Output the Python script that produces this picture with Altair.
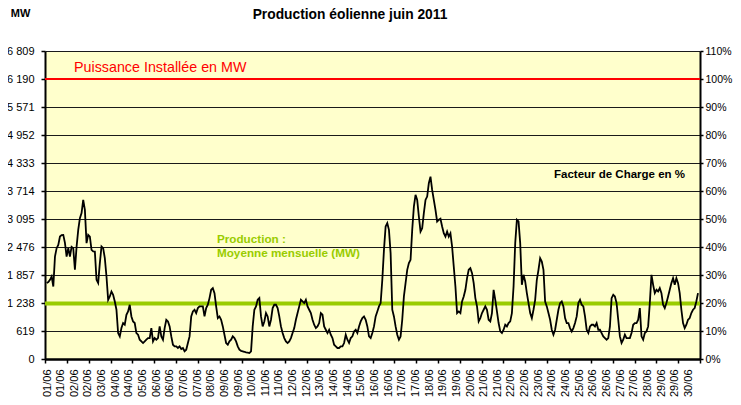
import altair as alt
import pandas as pd

title_text = "Production éolienne juin 2011"
installed_mw = 6190
monthly_mean_mw = 1225
y_ticks = [0, 619, 1238, 1857, 2476, 3095, 3714, 4333, 4952, 5571, 6190, 6809]
label_hours = list(range(0, 720, 15))
x_labels = ["01/06", "01/06", "02/06", "02/06", "03/06", "04/06", "04/06", "05/06",
            "06/06", "06/06", "07/06", "07/06", "08/06", "09/06", "09/06", "10/06",
            "11/06", "11/06", "12/06", "12/06", "13/06", "14/06", "14/06", "15/06",
            "16/06", "16/06", "17/06", "17/06", "18/06", "19/06", "19/06", "20/06",
            "21/06", "21/06", "22/06", "22/06", "23/06", "24/06", "24/06", "25/06",
            "26/06", "26/06", "27/06", "27/06", "28/06", "29/06", "29/06", "30/06"]
day_tick_hours = list(range(0, 721, 24))

# production (MW), sampled every ~1.83 h, in three stretches of the month
step_hours = 1.8265
seg_start_hours = [1.83, 213.7, 476.7]
seg1 = [1680, 1700, 1750, 1824, 1603, 2265, 2450, 2523, 2707, 2740,
        2744, 2568, 2265, 2450, 2265, 2480, 2450, 1972, 2480, 2855,
        3113, 3225, 3517, 3297, 2561, 2744, 2707, 2413, 2380, 2377,
        1751, 1678, 2119, 2487, 2450, 2230, 1824, 1309, 1383, 1493,
        1420, 1272, 1089, 574, 500, 684, 795, 760, 978, 1052,
        1199, 941, 830, 795, 574, 537, 426, 389, 353, 389,
        426, 463, 463, 684, 389, 463, 426, 463, 720, 500,
        426, 684, 868, 831, 720, 500, 316, 280, 280, 243,
        280, 220, 243, 171, 206, 353, 500, 941, 1052, 1089,
        1015, 1126, 1163, 1163, 1163, 941, 1126, 1199, 1346, 1530,
        1567, 1457, 1163, 904, 941, 868, 720, 537, 353, 316,
        389, 426, 500, 463, 389, 280]
seg2 = [206, 180, 171, 160, 147, 140, 132, 171, 720, 1089,
        1163, 1309, 1346, 941, 720, 831, 1015, 941, 720, 868,
        1126, 1199, 1199, 1126, 941, 720, 574, 463, 389, 353,
        389, 463, 574, 684, 868, 1015, 1163, 1309, 1272, 1236,
        1309, 1163, 1089, 1015, 868, 757, 684, 720, 795, 1015,
        978, 720, 647, 574, 647, 537, 463, 316, 280, 243,
        243, 280, 280, 353, 537, 426, 353, 463, 500, 610,
        647, 574, 720, 831, 904, 941, 868, 720, 500, 463,
        574, 720, 941, 1052, 1163, 1236, 1751, 2413, 2928, 3003,
        2855, 2340, 1089, 941, 720, 537, 426, 500, 868, 1383,
        1678, 1972, 2119, 2193, 2855, 3370, 3628, 3517, 3150, 2818,
        2892, 3224, 3517, 3591, 3886, 4032, 3738, 3517, 3297, 3040,
        3077, 3100, 2928, 2781, 2707, 2818, 2707, 2781, 2487, 2045,
        1603, 1015, 1052, 1015, 1272, 1383, 1530, 1787, 1972, 2009,
        1898, 1678, 1346, 1163]
seg3 = [831, 904, 1015, 1089, 1163, 1089, 868, 831, 1015, 1530,
        1309, 1052, 795, 610, 574, 647, 757, 720, 795, 831,
        1015, 1603, 2561, 3077, 3040, 2561, 1640, 1861, 1714, 1457,
        1236, 1015, 904, 1089, 1309, 1751, 1972, 2230, 2156, 1972,
        1272, 1163, 1015, 868, 647, 537, 647, 868, 1089, 1236,
        1272, 1163, 904, 795, 795, 684, 610, 684, 795, 941,
        1236, 1309, 1199, 1163, 941, 647, 574, 720, 757, 757,
        720, 795, 647, 647, 574, 500, 463, 426, 463, 720,
        1346, 1420, 1383, 1236, 868, 500, 353, 426, 537, 463,
        463, 463, 574, 757, 795, 795, 868, 1126, 500, 426,
        574, 610, 720, 1236, 1861, 1640, 1457, 1530, 1493, 1567,
        1457, 1199, 1126, 1236, 1383, 1530, 1678, 1787, 1640, 1787,
        1678, 1457, 1089, 795, 684, 757, 868, 904, 1015, 1089,
        1126, 1272, 1457]

hours, mw = [], []
for start, vals in zip(seg_start_hours, [seg1, seg2, seg3]):
    for i, v in enumerate(vals):
        hours.append(start + i * step_hours)
        mw.append(v)
df = pd.DataFrame({"heure": hours, "MW": mw})

FONT = "Liberation Sans"
xs = alt.Scale(domain=[0, 720], nice=False)
ys = alt.Scale(domain=[0, 6809], nice=False, zero=True)

label_expr_x = "[" + ",".join("'%s'" % s for s in x_labels) + "][round(datum.value / 15)]"

# visible production line (no axes of its own)
line = alt.Chart(df).mark_line(color="black", strokeWidth=1.8).encode(
    x=alt.X("heure:Q", scale=xs, axis=None),
    y=alt.Y("MW:Q", scale=ys, axis=None),
)

mean_rule = alt.Chart(pd.DataFrame({"moy": [monthly_mean_mw]})).mark_rule(
    color="#99CC00", strokeWidth=4).encode(y=alt.Y("moy:Q", scale=ys, axis=None))
inst_rule = alt.Chart(pd.DataFrame({"inst": [installed_mw]})).mark_rule(
    color="#FF0000", strokeWidth=2).encode(y=alt.Y("inst:Q", scale=ys, axis=None))

one = pd.DataFrame({"k": [0]})
red_text = alt.Chart(one).mark_text(
    text="Puissance Installée en MW", color="#FF0000", font=FONT, fontSize=14.3,
    align="left", baseline="alphabetic").encode(x=alt.value(29), y=alt.value(21))
green_text = alt.Chart(one).mark_text(
    text=["Production :", "Moyenne mensuelle (MW)"], color="#99CC00", font=FONT,
    fontSize=11.7, fontWeight="bold", lineHeight=13.5,
    align="left", baseline="alphabetic").encode(x=alt.value(172), y=alt.value(192))
title_mark = alt.Chart(one).mark_text(
    text=title_text, color="black", font=FONT, fontSize=13.8, fontWeight="bold",
    align="center", baseline="alphabetic").encode(x=alt.value(305), y=alt.value(-32))

# axis carriers (invisible marks)
axis_left = alt.Chart(df).mark_line(strokeOpacity=0).encode(
    x=alt.X("heure:Q", scale=xs, axis=alt.Axis(
        orient="bottom", values=label_hours, labelExpr=label_expr_x, labelAngle=270,
        labelAlign="right", labelBaseline="middle", labelOverlap=False, labelFlush=False,
        labelPadding=10, labelOffset=2, labelFont=FONT, labelFontSize=11, labelColor="black",
        ticks=False, domain=True, domainColor="black", domainWidth=2, grid=False, title=None)),
    y=alt.Y("MW:Q", scale=ys, axis=alt.Axis(
        orient="left", values=y_ticks,
        labelExpr="replace(format(datum.value, ','), ',', ' ')",
        labelFont=FONT, labelFontSize=11, labelColor="black", labelPadding=7,
        labelOverlap=False, labelFlush=False,
        tickSize=4, tickColor="black", tickWidth=1.5,
        domainColor="black", domainWidth=2,
        grid=True, gridColor="#1a1a1a", gridWidth=1,
        title="MW", titleAngle=0, titleX=-25, titleY=-35, titleAlign="center",
        titleBaseline="alphabetic", titleFont=FONT, titleFontSize=11,
        titleFontWeight="bold", titleColor="black")),
)

axis_right = alt.Chart(df).mark_line(strokeOpacity=0).encode(
    x=alt.X("heure:Q", scale=xs, axis=alt.Axis(
        orient="bottom", values=day_tick_hours, labels=False, ticks=True, tickSize=4,
        tickColor="black", tickWidth=1.5, domainColor="black", domainWidth=2,
        grid=False, title=None)),
    y=alt.Y("MW:Q", scale=ys, axis=alt.Axis(
        orient="right", values=y_ticks,
        labelExpr="format(datum.value / %d, '.0%%')" % installed_mw,
        labelFont=FONT, labelFontSize=10.5, labelColor="black", labelPadding=2,
        labelOverlap=False, labelFlush=False,
        tickSize=3, tickColor="black", tickWidth=1.5,
        domainColor="black", domainWidth=2, grid=False,
        title="Facteur de Charge en %", titleAngle=0, titleX=-81, titleY=126,
        titleAlign="center", titleBaseline="alphabetic", titleFont=FONT,
        titleFontSize=11.5, titleFontWeight="bold", titleColor="black")),
)

chart = alt.layer(
    axis_left, axis_right, mean_rule, inst_rule, red_text, green_text, title_mark, line
).resolve_axis(x="independent", y="independent").properties(
    width=655, height=308,
    padding={"left": 37, "top": 43, "right": 33, "bottom": 38},
    autosize=alt.AutoSizeParams(type="none"),
    background="white",
).configure_view(fill="#FFFFCC", strokeWidth=0)

chart.save("out.html", embed_options={"renderer": "svg", "actions": False})
